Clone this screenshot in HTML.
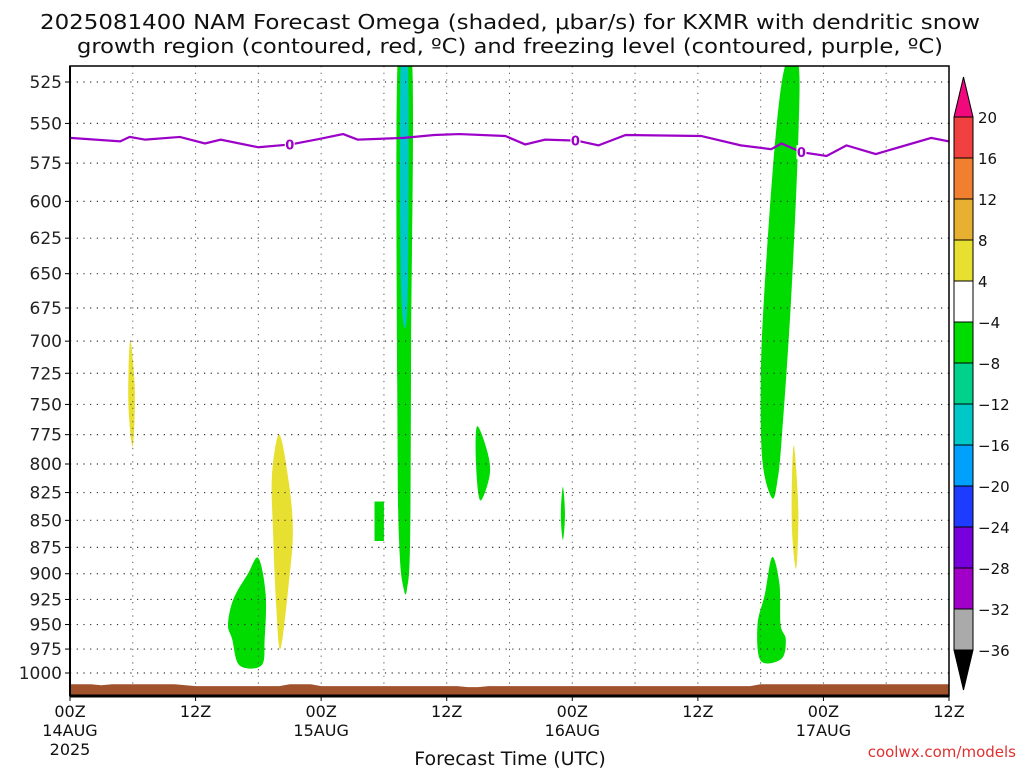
<!DOCTYPE html>
<html><head><meta charset="utf-8"><style>
body{margin:0;background:#fff;}
svg{display:block;font-family:"DejaVu Sans","Liberation Sans",sans-serif;}
</style></head><body>
<svg id="chart" width="1024" height="768" viewBox="0 0 1024 768">
<text x="510" y="29" text-anchor="middle" font-size="20" textLength="940" lengthAdjust="spacingAndGlyphs" fill="#111">2025081400 NAM Forecast Omega (shaded, μbar/s) for KXMR with dendritic snow</text>
<text x="510" y="53" text-anchor="middle" font-size="20" textLength="866" lengthAdjust="spacingAndGlyphs" fill="#111">growth region (contoured, red, ºC) and freezing level (contoured, purple, ºC)</text>
<g id="plot"></g>
<g id="cbar"></g>
<text x="510" y="765" text-anchor="middle" font-size="19" fill="#111">Forecast Time (UTC)</text>
<text x="1016" y="757" text-anchor="end" font-size="15" fill="#e03030">coolwx.com/models</text>
</svg>
<script>
const pressureTicks=[525,550,575,600,625,650,675,700,725,750,775,800,825,850,875,900,925,950,975,1000];
const timeTickHours=[0,12,24,36,48,60,72,84];
const timeTickLabels=[["00Z","14AUG","2025"],["12Z"],["00Z","15AUG"],["12Z"],["00Z","16AUG"],["12Z"],["00Z","17AUG"],["12Z"]];
const freezeHours=[0,4.8,5.7,7.2,10.5,12.9,14.4,18.0,21.1,23.9,26.1,27.5,31.9,34.8,37.2,41.6,43.5,45.4,48.4,50.5,53.1,60.3,64.1,67.0,68.0,69.9,72.3,74.2,77.0,82.3,84];
const freezeP=[559,561.2,558.4,560.1,558.4,562.5,560.1,564.9,563.1,559.6,556.6,560.1,559,557.2,556.6,557.8,563.1,560.1,560.7,563.7,557.2,557.8,563.7,566.1,562.5,568,570.4,563.7,569.2,559,561.2];
const freezeLabelHours=[21.0,48.3,69.9];
const terrainHours=[0,2,3,4,10,12,14,20,21,23,24,30,37,38,39,40,41,42,65,66,67,84];
const terrainP=[1012,1012,1013,1012,1012,1014,1014,1014,1012,1012,1014,1014,1014,1015,1015,1014,1014,1014,1014,1012,1012,1012];
const blobs=[
 {v:6,pts:[[5.8,700],[6.2,740],[6.0,785],[5.6,755],[5.6,720]]},
 {v:6,pts:[[20.0,775],[20.9,815],[21.3,860],[20.9,910],[20.1,975],[19.7,930],[19.4,860],[19.3,810]]},
 {v:-6,pts:[[18.0,885],[18.7,920],[18.6,965],[18.3,992],[16.2,992],[15.5,965],[15.1,950],[15.6,925],[17.0,900]]},
 {v:-6,poly:true,pts:[[29.1,833],[30.0,833],[30.0,869],[29.1,869]]},
 {v:-6,pts:[[31.3,514],[32.7,514],[32.6,700],[32.5,870],[32.2,915],[31.9,915],[31.5,880],[31.3,780]]},
 {v:-14,pts:[[31.6,514],[32.3,514],[32.3,650],[32.0,690],[31.6,650]]},
 {v:-6,pts:[[38.9,768],[39.9,790],[40.1,810],[39.2,832],[38.8,800]]},
 {v:-6,pts:[[47.1,820],[47.3,845],[47.1,868],[46.9,845]]},
 {v:-6,pts:[[68.4,514],[69.6,514],[69.6,559],[68.9,670],[68.0,780],[67.6,815],[67.1,830],[66.2,800],[66.0,740],[66.3,670],[67.4,560]]},
 {v:6,pts:[[69.2,785],[69.6,840],[69.4,895],[69.0,860],[69.0,810]]},
 {v:-6,pts:[[67.1,884],[67.8,910],[67.9,950],[68.4,965],[68.0,985],[66.0,987],[65.7,950],[66.4,920]]}
];
const cbarLabels=["20","16","12","8","4","−4","−8","−12","−16","−20","−24","−28","−32","−36"];
const cbarColors=["#f04040","#f08030","#e8b030","#e8e030","#ffffff","#00dc00","#00d28c","#00c8c8","#00a0ff","#1e3cff","#7800dc","#a000c8","#aaaaaa"];
const NS="http://www.w3.org/2000/svg";
const L=70,R=949,T=66,B=696;
const x=h=>L+h*(R-L)/84;
const K=0.1,P0=Math.pow(525,K),P1=Math.pow(1000,K);
const y=p=>82+591*(Math.pow(p,K)-P0)/(P1-P0);
function mk(tag,attrs,parent){const e=document.createElementNS(NS,tag);for(const k in attrs)e.setAttribute(k,attrs[k]);parent.appendChild(e);return e;}
function colorFor(v){if(v>=4&&v<8)return "#e8e030";if(v<=-12&&v>-16)return "#00c8c8";if(v<=-4&&v>-8)return "#00dc00";return "#fff";}
const plot=document.getElementById('plot');
const defs=mk('defs',{},plot);
const cp=mk('clipPath',{id:'clip'},defs);mk('rect',{x:L,y:T,width:R-L,height:B-T},cp);
const g=mk('g',{'clip-path':'url(#clip)'},plot);
function smooth(pts){let d='';const n=pts.length;for(let i=0;i<n;i++){const p0=pts[(i-1+n)%n],p1=pts[i],p2=pts[(i+1)%n],p3=pts[(i+2)%n];if(i===0)d+='M'+p1[0]+','+p1[1];const c1=[p1[0]+(p2[0]-p0[0])/6,p1[1]+(p2[1]-p0[1])/6],c2=[p2[0]-(p3[0]-p1[0])/6,p2[1]-(p3[1]-p1[1])/6];d+='C'+c1+' '+c2+' '+p2;}return d+'Z';}
blobs.forEach(b=>{const pp=b.pts.map(q=>[x(q[0]),y(q[1])]);const d=b.poly?'M'+pp.map(q=>q.join(',')).join('L')+'Z':smooth(pp);
 const e=mk('path',{d:d,fill:colorFor(b.v)},g);
 
 });
pressureTicks.forEach(p=>{const e=mk('line',{x1:L,x2:R,y1:y(p),y2:y(p),stroke:'#333','stroke-width':1.2,'stroke-dasharray':'1.2 5.5'},g);
 });
for(let h=6;h<84;h+=6){const e=mk('line',{x1:x(h),x2:x(h),y1:T,y2:B,stroke:'#555','stroke-width':1,'stroke-dasharray':'1.2 5.5'},g);
 }
let td='M'+x(0)+','+B;terrainHours.forEach((h,i)=>td+='L'+x(h)+','+y(terrainP[i]));td+='L'+x(84)+','+B+'Z';
const te=mk('path',{d:td,fill:'#a0522d'},g);

const fpts=freezeHours.map((h,i)=>[x(h),y(freezeP[i])]);
const fe=mk('path',{d:'M'+fpts.map(q=>q.join(',')).join('L'),fill:'none',stroke:'#9c00c8','stroke-width':2.2},g);

function interpP(h){for(let i=1;i<freezeHours.length;i++){if(h<=freezeHours[i]){const t=(h-freezeHours[i-1])/(freezeHours[i]-freezeHours[i-1]);return freezeP[i-1]+t*(freezeP[i]-freezeP[i-1]);}}return freezeP[freezeP.length-1];}
freezeLabelHours.forEach(h=>{const yy=y(interpP(h));mk('rect',{x:x(h)-5,y:yy-7,width:10,height:14,fill:'#fff'},g);
 const t=mk('text',{x:x(h),y:yy+5,'text-anchor':'middle','font-size':13,'font-weight':'bold',fill:'#9c00c8'},g);t.textContent='0';
 });
mk('rect',{x:L,y:T,width:R-L,height:B-T,fill:'none',stroke:'#000','stroke-width':1.5},plot);
mk('line',{x1:L,x2:R,y1:B,y2:B,stroke:'#000','stroke-width':3},plot);
mk('line',{x1:L,x2:L,y1:T,y2:B,stroke:'#000','stroke-width':2},plot);
pressureTicks.forEach(p=>{mk('line',{x1:L-5,x2:L,y1:y(p),y2:y(p),stroke:'#000'},plot);
 const t=mk('text',{x:L-8,y:y(p)+6,'text-anchor':'end','font-size':17,fill:'#222'},plot);t.textContent=p;
 });
timeTickHours.forEach((h,i)=>{mk('line',{x1:x(h),x2:x(h),y1:B,y2:B+5,stroke:'#000'},plot);
 timeTickLabels[i].forEach((s,j)=>{const t=mk('text',{x:x(h),y:B+21+j*19,'text-anchor':'middle','font-size':16,fill:'#111'},plot);t.textContent=s;
 });});
const cb=document.getElementById('cbar');const cx=954,cw=19,c0=117,seg=41;
mk('path',{d:`M${cx},${c0}L${cx+cw/2},${c0-40}L${cx+cw},${c0}Z`,fill:'#f0087c',stroke:'#000'},cb);
const bot=c0+seg*cbarColors.length;
mk('path',{d:`M${cx},${bot}L${cx+cw/2},${bot+40}L${cx+cw},${bot}Z`,fill:'#000',stroke:'#000'},cb);
cbarColors.forEach((c,i)=>{const r=mk('rect',{x:cx,y:c0+i*seg,width:cw,height:seg,fill:c,stroke:'#000','stroke-width':1},cb);
 });
cbarLabels.forEach((s,i)=>{const t=mk('text',{x:cx+cw+5,y:c0+i*seg+6,'font-size':15,fill:'#111'},cb);t.textContent=s;
 });
</script>
</body></html>
